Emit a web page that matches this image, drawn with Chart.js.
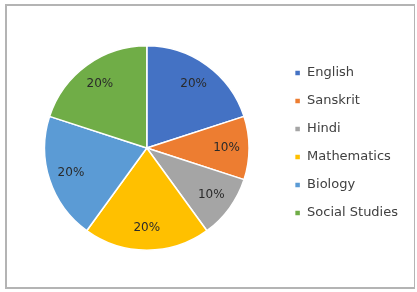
<!DOCTYPE html>
<html>
<head>
<meta charset="utf-8">
<script src="https://cdn.jsdelivr.net/npm/chart.js@4.4.1/dist/chart.umd.min.js"></script>
<style>
  html, body { margin: 0; padding: 0; background: #fff; }
  body { width: 417px; height: 292px; position: relative; overflow: hidden; }
  #box {
    position: absolute; left: 5px; top: 4px;
    width: 410px; height: 285px;
    border: 2px solid #b4b4b4; border-right-width: 1px;
    box-sizing: border-box;
  }
  #wrap { position: absolute; left: 2px; top: 2px; width: 406px; height: 281px; }
</style>
</head>
<body>
<div id="box"><div id="wrap"><canvas id="chart"></canvas></div></div>
<script>
// subjects and their share of the pie
const subjects = ['English', 'Sanskrit', 'Hindi', 'Mathematics', 'Biology', 'Social Studies'];
const shares = [20, 10, 10, 20, 20, 20];
const colours = ['#4472C4', '#ED7D31', '#A5A5A5', '#FFC000', '#5B9BD5', '#70AD47'];

// draw the "20%" labels inside each slice
const sliceLabels = {
  id: 'sliceLabels',
  afterDatasetsDraw(chart) {
    const ctx = chart.ctx;
    const meta = chart.getDatasetMeta(0);
    ctx.save();
    ctx.font = '12px "DejaVu Sans", sans-serif';
    ctx.fillStyle = '#2a2a2a';
    ctx.textAlign = 'center';
    ctx.textBaseline = 'middle';
    meta.data.forEach((arc, i) => {
      const p = arc.getProps(['x', 'y', 'startAngle', 'endAngle', 'outerRadius'], true);
      const mid = (p.startAngle + p.endAngle) / 2;
      const r = p.outerRadius * 0.78;
      ctx.fillText(shares[i] + '%', p.x + Math.cos(mid) * r, p.y + Math.sin(mid) * r);
    });
    ctx.restore();
  }
};

// nudge the legend up a little, it sits above the pie centre in the original
const legendNudge = {
  id: 'legendNudge',
  beforeDraw(chart) {
    const lg = chart.legend;
    if (lg && !lg._nudged) { lg.top -= 5; lg.bottom -= 5; lg._nudged = true; }
  }
};

new Chart(document.getElementById('chart'), {
  type: 'pie',
  data: {
    labels: subjects,
    datasets: [{
      data: shares,
      backgroundColor: colours,
      borderColor: '#fff',
      borderWidth: 1.5
    }]
  },
  options: {
    responsive: true,
    maintainAspectRatio: false,
    animation: false,
    layout: { padding: { top: 37, bottom: 38, left: 5, right: 7 } },
    plugins: {
      tooltip: { enabled: false },
      legend: {
        position: 'right',
        labels: {
          boxWidth: 6, boxHeight: 6, padding: 15,
          color: '#404040',
          font: { family: '"DejaVu Sans", sans-serif', size: 13 }
        }
      }
    }
  },
  plugins: [sliceLabels, legendNudge]
});
</script>
</body>
</html>
